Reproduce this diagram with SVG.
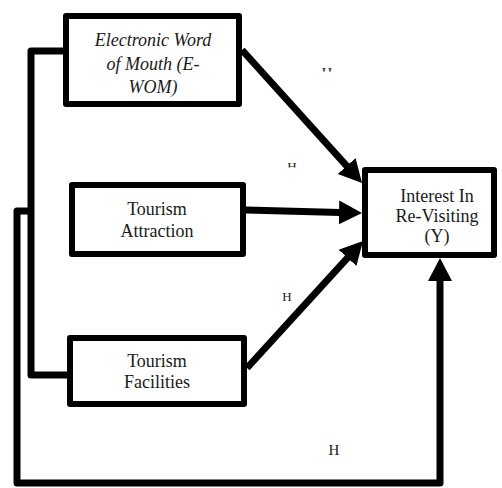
<svg xmlns="http://www.w3.org/2000/svg" width="502" height="488" viewBox="0 0 502 488">
<style>
.box{fill:#fff;stroke:#000;stroke-width:6;stroke-linejoin:round}
.t{font-family:"Liberation Serif","Times New Roman",serif;font-size:18px;fill:#1a1a1a;text-anchor:middle}
.it{font-style:italic}
.h{font-family:"Liberation Serif","Times New Roman",serif;fill:#1a1a1a;text-anchor:middle}
.ln{fill:none;stroke:#000;stroke-width:7;stroke-linejoin:round}
.ar{fill:none;stroke:#000;stroke-width:7;marker-end:url(#ah)}
</style>
<defs>
<marker id="ah" markerUnits="userSpaceOnUse" markerWidth="24" markerHeight="26" viewBox="-1 -13 24 26" refX="0" refY="0" orient="auto">
<path d="M-1,-12 L22,0 L-1,12 z" fill="#000"/>
</marker>
<clipPath id="c1"><rect x="310" y="60" width="40" height="11.5"/></clipPath>
<clipPath id="c2"><rect x="275" y="155" width="40" height="12.5"/></clipPath>
</defs>
<rect width="502" height="488" fill="#fff"/>
<g id="connectors">
<path class="ln" d="M63,51 L31,51 L31,375 L67,375"/>
<path class="ln" d="M31,211 L17,211 L17,483 L440,483 L440,280" marker-end="url(#ah)"/>
<path class="ar" d="M242,50 L347.3,166.7"/>
<path class="ar" d="M246,210 L340,212.4"/>
<path class="ar" d="M247,368 L348.2,257.2"/>
</g>
<g id="ewom">
<rect class="box" x="66" y="16" width="173" height="88"/>
<text class="t it" x="153" y="46">Electronic Word</text>
<text class="t it" x="153" y="70">of Mouth (E-</text>
<text class="t it" x="153" y="93">WOM)</text>
</g>
<g id="attraction">
<rect class="box" x="72" y="185" width="171" height="69"/>
<text class="t" x="157" y="215">Tourism</text>
<text class="t" x="157" y="237">Attraction</text>
</g>
<g id="facilities">
<rect class="box" x="70" y="338" width="174" height="66"/>
<text class="t" x="157" y="367">Tourism</text>
<text class="t" x="157" y="388">Facilities</text>
</g>
<g id="interest">
<rect class="box" x="365" y="170" width="129" height="85"/>
<text class="t" x="437" y="202">Interest In</text>
<text class="t" x="437" y="222">Re-Visiting</text>
<text class="t" x="437" y="242">(Y)</text>
</g>
<g id="labels">
<text class="h" x="327" y="78" font-size="15" clip-path="url(#c1)">H</text>
<text class="h" x="292" y="171" font-size="13" clip-path="url(#c2)">H</text>
<text class="h" x="287" y="301" font-size="13">H</text>
<text class="h" x="334" y="455" font-size="15">H</text>
</g>
</svg>
